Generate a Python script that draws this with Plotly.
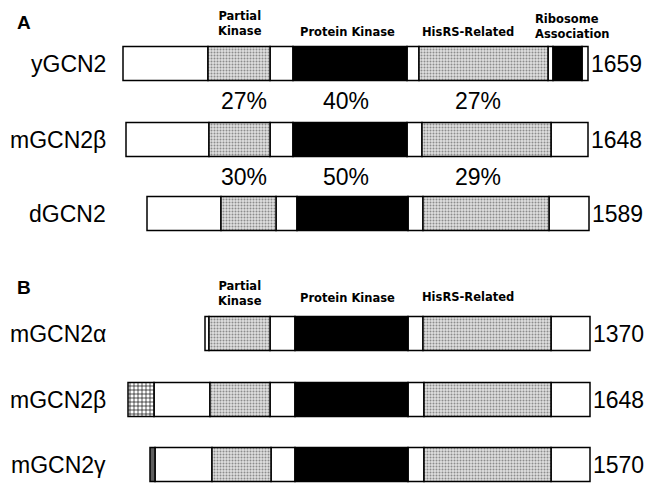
import plotly.graph_objects as go

# ---- data ----
proteins = ["yGCN2", "mGCN2β", "dGCN2", "mGCN2α", "mGCN2β", "mGCN2γ"]
lengths = ["1659", "1648", "1589", "1370", "1648", "1570"]
# domain boundaries along the diagram scale (left edge ... right edge)
boundaries = [
    [123, 208, 270, 293, 407, 419, 548, 553, 582, 588],
    [126, 209, 270, 293, 407, 422, 551, 588],
    [147, 221, 276, 297, 408, 423, 549, 589],
    [205, 209, 270, 295, 408, 423, 551, 590],
    [128, 154, 210, 270, 295, 408, 424, 551, 590],
    [150, 155, 212, 271, 295, 408, 424, 551, 590],
]
# N = other, P = partial kinase, K = kinase/black, H = HisRS-related,
# G = alternative N-terminus (grid), S = alternative N-terminus (strip)
domains = [
    ["N", "P", "N", "K", "N", "H", "N", "K", "N"],
    ["N", "P", "N", "K", "N", "H", "N"],
    ["N", "P", "N", "K", "N", "H", "N"],
    ["N", "P", "N", "K", "N", "H", "N"],
    ["G", "N", "P", "N", "K", "N", "H", "N"],
    ["S", "N", "P", "N", "K", "N", "H", "N"],
]
identity_y_vs_m = ["27%", "40%", "27%"]
identity_m_vs_d = ["30%", "50%", "29%"]
headers_A = ["Partial<br>Kinase", "Protein Kinase", "HisRS-Related", "Ribosome<br>Association"]
headers_B = ["Partial<br>Kinase", "Protein Kinase", "HisRS-Related"]
panels = ["A", "B"]

# ---- layout helpers ----
row_y = [63.5, 139.5, 213.5, 333.5, 399.5, 464.5]
row_h = 34
FONT = "Liberation Sans, Arial, Helvetica, sans-serif"
HFONT = "DejaVu Sans, Verdana, sans-serif"

stip = dict(shape=".", fgcolor="#8c8c8c", bgcolor="#e0e0e0", size=3, solidity=0.35, fillmode="replace")
styles = {
    "N": dict(color="white", pattern=dict(shape="")),
    "K": dict(color="black", pattern=dict(shape="")),
    "P": dict(color="#d6d6d6", pattern=stip),
    "H": dict(color="#d6d6d6", pattern=stip),
    "G": dict(color="white", pattern=dict(shape="+", fgcolor="black", bgcolor="white",
                                          size=4, solidity=0.3, fillmode="replace")),
    "S": dict(color="#888", pattern=dict(shape=".", fgcolor="black", bgcolor="#aaaaaa",
                                         size=2, solidity=0.5, fillmode="replace")),
}

fig = go.Figure()
for t, st in styles.items():
    base, xs, ys, ws = [], [], [], []
    for r, (b, d) in enumerate(zip(boundaries, domains)):
        for i, dt in enumerate(d):
            if dt == t:
                base.append(b[i])
                xs.append(b[i + 1] - b[i])
                ys.append(row_y[r])
                ws.append(row_h)
    if not xs:
        continue
    fig.add_trace(go.Bar(
        orientation="h", base=base, x=xs, y=ys, width=ws,
        marker=dict(color=st["color"], pattern=st["pattern"],
                    line=dict(color="black", width=1.5)),
        hoverinfo="skip", showlegend=False,
    ))

ann = []
for r, name in enumerate(proteins):
    ann.append(dict(x=108, y=row_y[r], text=name, xanchor="right", yanchor="middle",
                    showarrow=False, font=dict(size=23, color="black", family=FONT)))
    ann.append(dict(x=boundaries[r][-1] + 1, y=row_y[r], text=lengths[r], xanchor="left",
                    yanchor="middle", showarrow=False,
                    font=dict(size=23, color="black", family=FONT)))

pct_x = [244, 346, 478]
for vals, yy in ((identity_y_vs_m, 101), (identity_m_vs_d, 177)):
    for v, xx in zip(vals, pct_x):
        ann.append(dict(x=xx, y=yy, text=v, showarrow=False, xanchor="center", yanchor="middle",
                        font=dict(size=23, color="black", family=FONT)))

hx = [240, 347, 468, 533]
hy_A = [23, 32, 32, 26]
for i, h in enumerate(headers_A):
    ann.append(dict(x=hx[i], y=hy_A[i], text=h, showarrow=False,
                    xanchor="left" if i == 3 else "center", yanchor="middle",
                    align="left" if i == 3 else "center",
                    font=dict(size=11.5, color="black", family=HFONT, weight="bold")))
hy_B = [293, 298, 297]
for i, h in enumerate(headers_B):
    ann.append(dict(x=hx[i], y=hy_B[i], text=h, showarrow=False, xanchor="center",
                    yanchor="middle",
                    font=dict(size=11.5, color="black", family=HFONT, weight="bold")))

for p, yy in zip(panels, (22, 287)):
    ann.append(dict(x=15, y=yy, text=p, showarrow=False, xanchor="left", yanchor="middle",
                    font=dict(size=19, color="black", family=FONT, weight="bold")))

fig.update_layout(
    width=650, height=483,
    margin=dict(l=0, r=0, t=0, b=0),
    paper_bgcolor="white", plot_bgcolor="white",
    barmode="overlay",
    xaxis=dict(range=[0, 650], visible=False, fixedrange=True),
    yaxis=dict(range=[483, 0], visible=False, fixedrange=True),
    annotations=ann,
)

fig.write_html("out.html", config={"displayModeBar": False},
               post_script="document.body.style.margin='0';")
